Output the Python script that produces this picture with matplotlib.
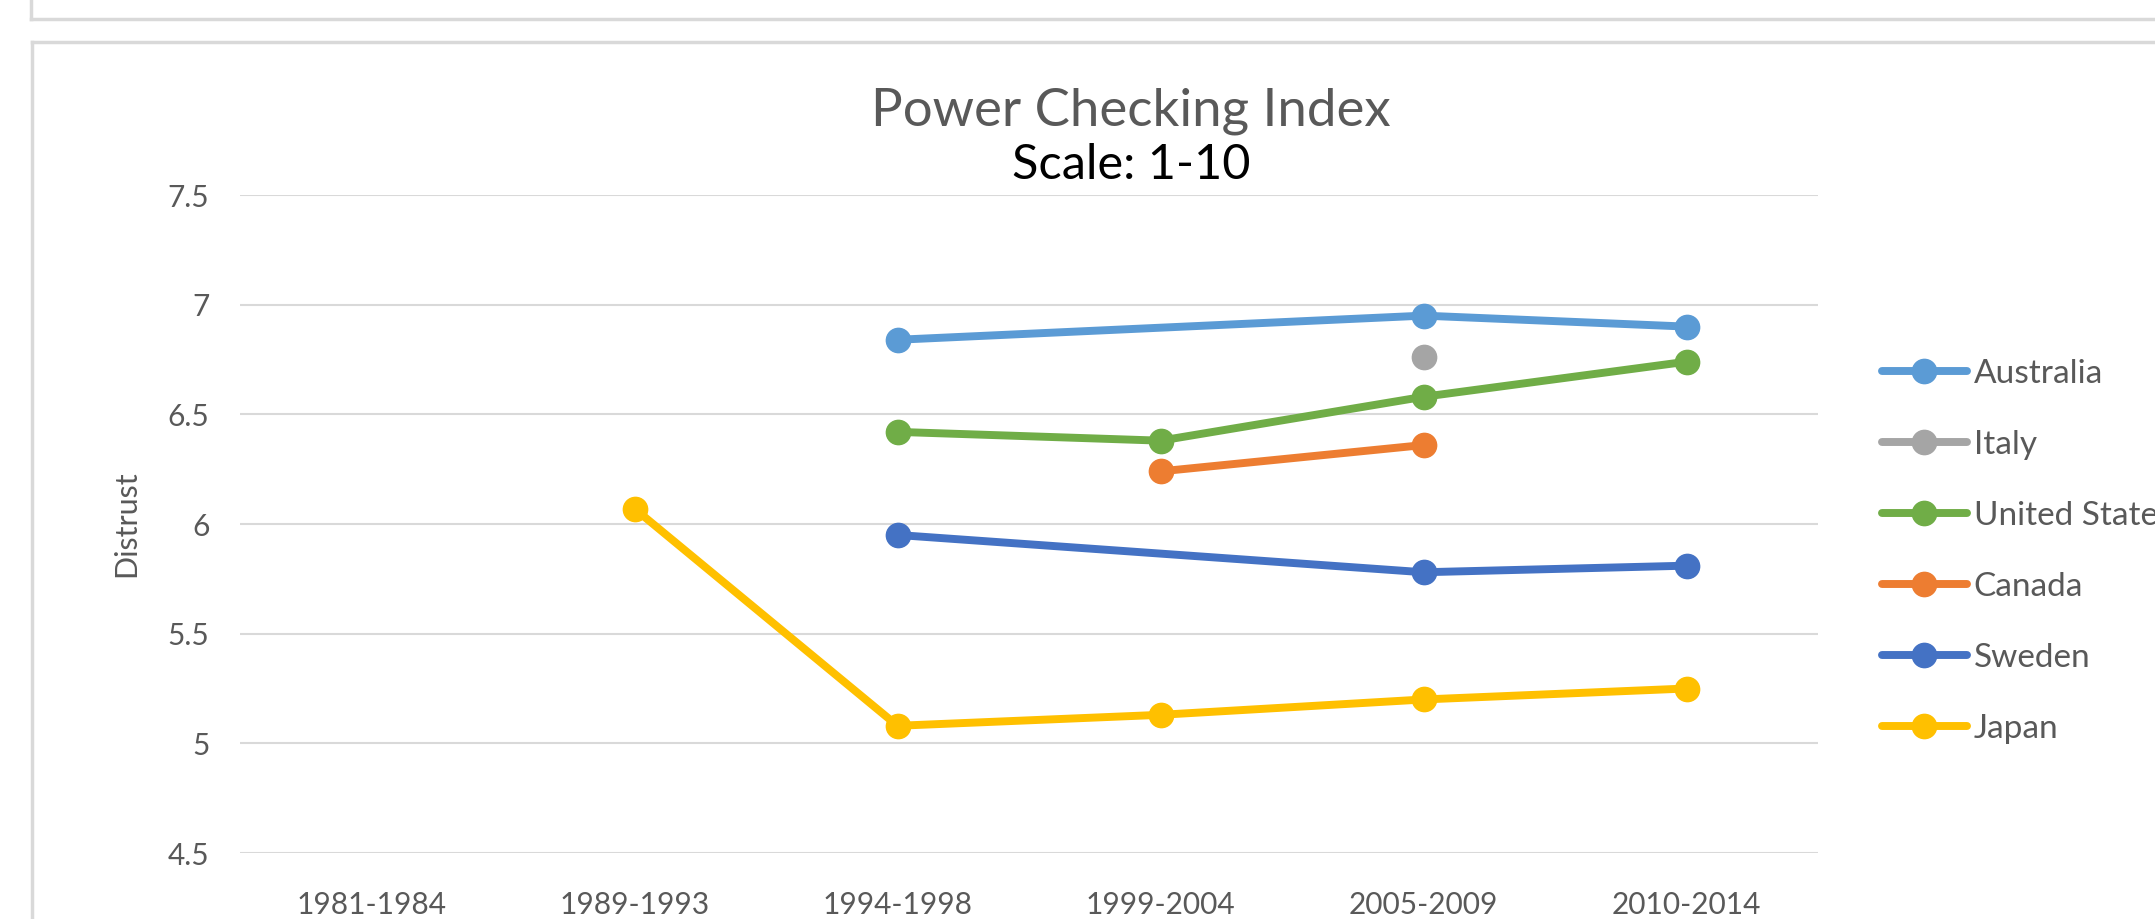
import matplotlib.pyplot as plt
from matplotlib.lines import Line2D

plt.rcParams['font.family'] = ['Lato', 'DejaVu Sans']

periodos = ['1981-1984', '1989-1993', '1994-1998', '1999-2004', '2005-2009', '2010-2014']
paises = ['Australia', 'Italy', 'United States', 'Canada', 'Sweden', 'Japan']
colores = ['#5B9BD5', '#A5A5A5', '#70AD47', '#ED7D31', '#4472C4', '#FFC000']

# valores por periodo (None = sin dato)
australia = [None, None, 6.84, None, 6.95, 6.90]
italy = [None, None, None, None, 6.76, None]
united_states = [None, None, 6.42, 6.38, 6.58, 6.74]
canada = [None, None, None, 6.24, 6.36, None]
sweden = [None, None, 5.95, None, 5.78, 5.81]
japan = [None, 6.07, 5.08, 5.13, 5.20, 5.25]
series = [australia, italy, united_states, canada, sweden, japan]

W, H = 2155, 919
fig = plt.figure(figsize=(W / 100, H / 100), dpi=100)


def px(x, y):
    return x / W, 1 - y / H


# bordes de los paneles (estilo captura de Excel)
borde = '#d9d9d9'
for (x0, y0), (x1, y1) in [((31, 0), (31, 19)), ((31, 19), (W, 19)),
                           ((32, 42), (W, 42)), ((32, 42), (32, H))]:
    a, b = px(x0, y0)
    c, d = px(x1, y1)
    fig.add_artist(Line2D([a, c], [b, d], color=borde, lw=2.5, transform=fig.transFigure))

left, top = px(240, 195)
right, bottom = px(1818, 853)
ax = fig.add_axes([left, bottom, right - left, top - bottom])

x = list(range(len(periodos)))
handles = []
for nombre, valores, color in zip(paises, series, colores):
    xs = [i for i, v in zip(x, valores) if v is not None]
    ys = [v for v in valores if v is not None]
    ax.plot(xs, ys, color=color, lw=5.7, marker='o', markersize=17.5, zorder=3,
            solid_capstyle='round')
    handles.append(Line2D([], [], color=color, lw=5.7, marker='o', markersize=17.5,
                          solid_capstyle='round'))

ax.set_xlim(-0.5, 5.5)
ax.set_ylim(4.5, 7.5)
ax.set_yticks([4.5, 5, 5.5, 6, 6.5, 7, 7.5])
ax.set_yticklabels(['4.5', '5', '5.5', '6', '6.5', '7', '7.5'])
ax.set_xticks(x)
ax.set_xticklabels(periodos)
ax.grid(axis='y', color='#d9d9d9', lw=1.5)
ax.set_axisbelow(True)
for s in ax.spines.values():
    s.set_visible(False)
ax.tick_params(length=0, labelsize=21.5, labelcolor='#595959')
ax.tick_params(axis='y', pad=22)
ax.tick_params(axis='x', pad=27)
ax.set_ylabel('Distrust', fontsize=22, color='#595959', labelpad=20)

tx, ty = px(1131, 111)
fig.text(tx, ty, 'Power Checking Index', ha='center', va='center', fontsize=38, color='#595959')
tx, ty = px(1131, 165)
fig.text(tx, ty, 'Scale: 1-10', ha='center', va='center', fontsize=35, color='black')

# la leyenda queda cortada en el borde derecho, como en el original
lx, ly = px(1882, 359)
fig.legend(handles, paises, loc='upper left', bbox_to_anchor=(lx, ly), frameon=False,
           fontsize=24, labelcolor='#595959', handlelength=2.55, handletextpad=0.2,
           labelspacing=1.23, borderpad=0, borderaxespad=0)

fig.savefig('out.png', dpi=100)
